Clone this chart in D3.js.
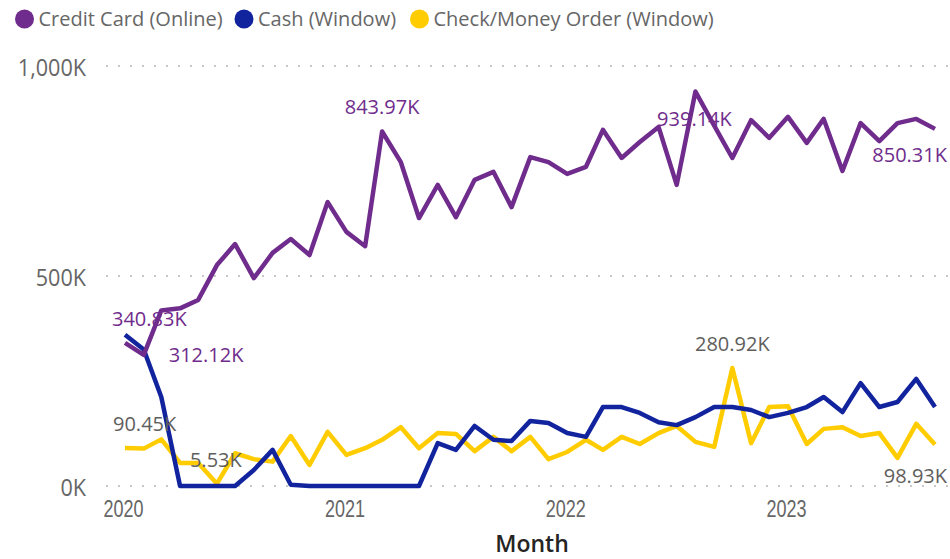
<!DOCTYPE html>
<html><head><meta charset="utf-8">
<script src="https://cdn.jsdelivr.net/npm/d3@7"></script>
<style>
body{margin:0;background:#fff;}
svg{font-family:"Segoe UI","Open Sans","Noto Sans",sans-serif;}
</style></head>
<body><svg id="c" width="950" height="559"></svg>
<script>
const creditCard = [340.83,312.12,418,423,443,526,576,495,555,588,550,676,605,571,843.97,771,638,717,640,729,748,664,783,771,743,760,848,781,819,855,717,939.14,858,781,871,829,879,817,874,750,864,821,864,874,850.31];
const cash = [360,325,212,0,0,0,0,38,86,3,0,0,0,0,0,0,0,102,86,143,110,107,155,150,126,117,188,188,174,152,145,164,188,188,181,164,174,188,212,176,245,188,200,255,188];
const check = [90.45,89,111,55,55,5.53,78,64,58,119,50,129,74,90,110,140,90,126,124,83,117,83,117,64,81,110,86,117,100,126,143,105,93,280.92,102,188,190,100,136,140,119,126,67,148,98.93];
const seriesNames = ["Credit Card (Online)","Cash (Window)","Check/Money Order (Window)"];
const yTicks = [0,500,1000];
const yTickLabels = ["0K","500K","1,000K"];
const xTickLabels = ["2020","2021","2022","2023"];
const colors = ["#6F2C8C","#12239E","#FFCC00"];
// labeled points: [seriesIndex, monthIndex, dx, dy, anchor]
const labels = [
  [0,0,-13,-17,"start"],[0,1,25,7,"start"],[0,14,0,-18,"middle"],[0,31,-1,34,"middle"],[0,44,12,33,"end"],
  [2,0,-12,-17,"start"],[2,5,-27,-17,"start"],[2,33,0,-17,"middle"],[2,44,12,39,"end"]
];

const months = d3.range(cash.length).map(i => d3.timeMonth.offset(new Date(2020,0,1), i));
const svg = d3.select("#c");
const x = d3.scaleTime().domain([months[0], months[months.length-1]]).range([125,935]);
const y = d3.scaleLinear().domain([0,1000]).range([486,66]);

function condense(sel, k){
  sel.each(function(){ const w=this.getComputedTextLength(); d3.select(this).attr("textLength",w*k).attr("lengthAdjust","spacingAndGlyphs"); });
}

// gridlines
svg.append("g").selectAll("line").data(yTicks).join("line")
  .attr("x1",106).attr("x2",948).attr("y1",d=>y(d)).attr("y2",d=>y(d))
  .attr("stroke","#c8c8c8").attr("stroke-width",2).attr("stroke-dasharray","2,10").attr("stroke-linecap","butt");

// y labels
svg.append("g").selectAll("text").data(yTicks).join("text")
  .attr("x",86).attr("y",d=>y(d)+2).attr("dy","0.35em").attr("text-anchor","end")
  .attr("fill","#666").attr("font-size",24).text((d,i)=>yTickLabels[i]).call(condense,0.9);

// x axis
const xAxis = d3.axisBottom(x).tickValues(xTickLabels.map(t=>new Date(+t,0,1))).tickFormat((d,i)=>xTickLabels[i]).tickSize(0).tickPadding(0);
const gx = svg.append("g").attr("transform","translate(-2,500)").call(xAxis);
gx.select(".domain").remove();
gx.selectAll("text").attr("fill","#666").attr("font-size",24).attr("font-family","inherit").attr("dy","0.72em").call(condense,0.75);

svg.append("text").attr("x",532).attr("y",552).attr("text-anchor","middle")
  .attr("fill","#252423").attr("font-size",23).attr("font-weight",600).text("Month");

// lines
const allSeries = [creditCard, cash, check];
const line = d3.line().x((d,i)=>x(months[i])).y(d=>y(d));
[2,1,0].forEach(s=>{
  svg.append("path").datum(allSeries[s]).attr("d",line).attr("fill","none")
    .attr("stroke",colors[s]).attr("stroke-width",4.5).attr("stroke-linejoin","round").attr("stroke-linecap","butt");
});

// data labels
svg.append("g").selectAll("text").data(labels).join("text")
  .attr("x",d=>x(months[d[1]])+d[2]).attr("y",d=>y(allSeries[d[0]][d[1]])+d[3])
  .attr("text-anchor",d=>d[4]).attr("font-size",20)
  .attr("fill",d=>d[0]===0?"#6F2C8C":"#605E5C")
  .text(d=>d3.format(".2f")(allSeries[d[0]][d[1]])+"K");

// legend
const legX = [24.5,244,419.5];
const lg = svg.append("g").selectAll("g").data(seriesNames).join("g").attr("transform",(d,i)=>`translate(${legX[i]},19)`);
lg.append("circle").attr("r",9.5).attr("fill",(d,i)=>colors[i]);
lg.append("text").attr("x",14).attr("dy","0.35em").attr("font-size",20).attr("fill","#666").text(d=>d);
</script></body></html>
